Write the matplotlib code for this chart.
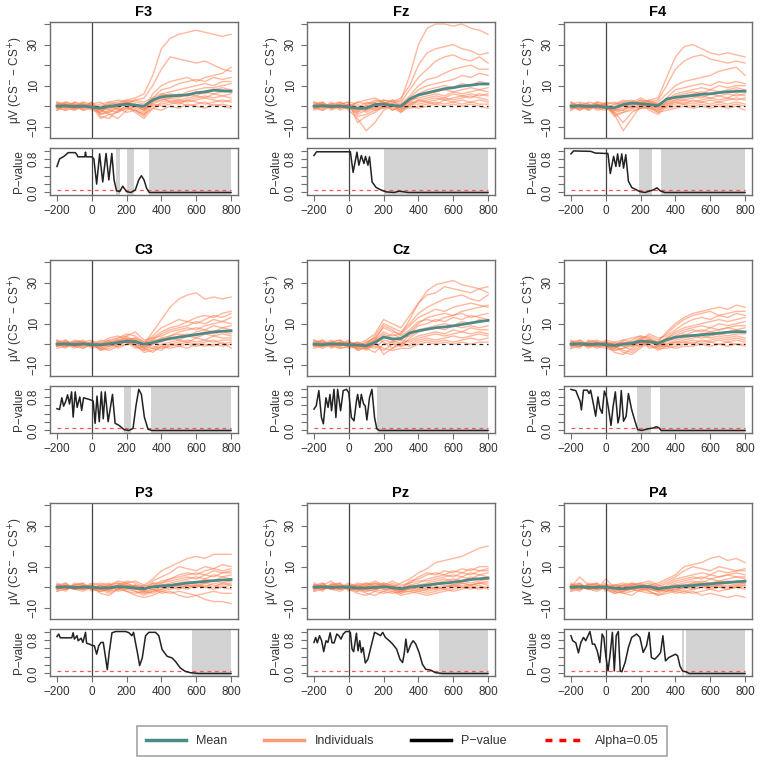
import numpy as np
import matplotlib
matplotlib.use("Agg")
import matplotlib.pyplot as plt
from matplotlib.lines import Line2D

plt.rcParams['font.family'] = ['Liberation Sans', 'DejaVu Sans']

# time grid of the individual / mean waveforms (ms)
t_wave = [-200, -150, -100, -50, 0, 50, 100, 150, 200, 250, 300,
          350, 400, 450, 500, 550, 600, 650, 700, 750, 800]

electrodes = ['F3', 'Fz', 'F4', 'C3', 'Cz', 'C4', 'P3', 'Pz', 'P4']

# ---- mean difference waves (uV) ----
mean_F3 = [0, 0.2, -0.2, 0.1, -0.5, -1, 0, 0.5, 1, 0.5, 0, 3, 4.5, 5, 5.2, 5.5, 6.5, 7, 7.8, 7.5, 7.3]
mean_Fz = [0, 0.2, -0.2, 0.1, -0.5, -1, -1, 0.8, 1, 0.4, 0, 3.5, 5.5, 6.5, 7.5, 8.5, 9, 9.8, 10.2, 10.8, 10.8]
mean_F4 = [0, 0.2, -0.2, 0.1, -0.6, -0.8, 0.8, 1.5, 1.2, 0.8, 0.3, 3.5, 4.3, 4.8, 5.2, 5.8, 6, 6.6, 7, 7.2, 7.3]
mean_C3 = [0, 0.2, -0.2, 0.2, -0.3, -0.3, 0.2, 0.8, 1.4, 1.2, 0, 0.8, 1.8, 2.8, 3.4, 4, 4.7, 5.3, 6, 6.3, 6.5]
mean_Cz = [0, -0.3, 0.2, 0, -0.3, -0.4, -0.8, 0.8, 3.5, 2.5, 2.8, 5.5, 6.5, 7.3, 8, 8.4, 8.9, 9.6, 10.3, 11, 11.6]
mean_C4 = [0, 0.2, -0.2, 0.1, -0.3, -0.7, 0, 0.4, 1.5, 1.2, 0.4, 2.2, 3.4, 3.9, 4.2, 4.6, 4.9, 5.4, 5.8, 6.1, 6]
mean_P3 = [0, 0.2, -0.2, 0.1, 0, -0.4, -0.3, 0.3, 0, -0.5, -0.8, 0.2, 0.6, 0.9, 1.5, 2, 2.4, 2.8, 3.2, 3.5, 3.7]
mean_Pz = [0, 0.2, -0.1, 0.1, 0, -0.4, -0.4, -0.1, 0.2, -0.2, -0.8, 0, 0.5, 1, 1.6, 2, 2.4, 3, 3.7, 4.1, 4.4]
mean_P4 = [0, 0.2, -0.1, 0, 0, -0.5, -0.8, -0.3, 0.3, 0.3, -0.8, -0.2, 0.2, 0.6, 0.8, 1.3, 1.6, 2, 2.3, 2.6, 2.9]

# ---- individual participants (uV) ----
ind_F3 = [
    [1, -1, 2, 0, -1, -3, 1, 2, 3, 4, 6, 15, 28, 33, 35, 36, 37, 36, 35, 34, 35],
    [0, 1, -2, 1, 0, -2, -1, 1, 2, 3, 4, 10, 18, 24, 23, 22, 21, 22, 20, 18, 17],
    [-2, 0, 1, -1, 2, -4, -3, 0, 2, 1, -2, 6, 10, 12, 13, 14, 12, 14, 15, 16, 19],
    [2, 1, 0, 2, -1, 0, -2, -3, 1, -1, -3, 4, 8, 9, 11, 12, 13, 12, 14, 13, 14],
    [-1, -2, -1, 0, 1, -5, -6, -2, 0, -2, -4, 2, 6, 7, 8, 9, 10, 11, 10, 12, 12],
    [1, 2, 1, -2, 0, 1, 2, 3, 2, 0, -1, 3, 5, 6, 5, 7, 8, 9, 9, 10, 11],
    [0, -1, 2, 1, -2, -3, 0, -1, -3, -2, -5, 1, 3, 4, 6, 5, 7, 6, 8, 9, 8],
    [-1, 0, -2, 0, 1, 2, -1, 0, 1, 3, 2, 4, 6, 5, 4, 6, 5, 7, 6, 7, 7],
    [2, -1, 0, 1, -1, -2, -4, -6, -2, 0, -2, 2, 3, 4, 3, 4, 5, 4, 6, 5, 6],
    [-2, 1, 1, -1, 0, -1, 2, 1, 0, -3, -6, -1, 2, 3, 2, 3, 4, 5, 4, 5, 4],
    [1, 0, -1, 2, 1, -4, -2, 1, 3, 2, 1, 3, 4, 2, 3, 2, 3, 4, 3, 2, 3],
    [-1, 2, 0, -2, -1, 0, 1, -2, -1, 1, -1, 0, 1, 2, 1, 3, 2, 1, 2, 3, 2],
    [0, -2, 1, 0, 2, -2, -3, -1, 2, 0, -2, 1, 0, 1, 2, 0, 1, 2, 0, 1, 0],
    [1, 1, -1, -1, 0, -6, -4, -3, -1, -2, -4, -1, -2, 0, -1, 1, 0, -1, 1, 0, -1],
]
ind_Fz = [
    [0, 1, -1, 0, 0, 2, 1, 3, 2, 1, 3, 15, 30, 38, 40, 40, 39, 40, 38, 37, 35],
    [1, -1, 0, 2, -1, -1, 0, 2, 3, 2, 4, 10, 20, 26, 28, 29, 30, 28, 27, 25, 26],
    [-1, 0, 1, -1, 1, -3, -1, 1, 1, 3, 2, 8, 14, 18, 22, 24, 25, 23, 22, 24, 21],
    [0, 2, -1, 0, -2, -6, -12, -8, -2, 0, 1, 5, 10, 13, 14, 16, 18, 19, 20, 18, 18],
    [2, 0, 1, -1, 0, -2, 0, -1, 1, -2, 0, 4, 8, 10, 11, 12, 13, 15, 14, 16, 15],
    [-1, -2, 0, 1, 2, -8, -5, -3, 0, 1, -2, 3, 6, 8, 9, 10, 9, 11, 10, 12, 11],
    [1, 1, -2, 0, -1, 2, 3, 4, 2, 0, -1, 2, 5, 6, 7, 8, 7, 8, 9, 8, 9],
    [-2, 0, 1, 2, 0, -4, -2, 0, 3, 2, 1, 3, 4, 5, 6, 5, 7, 6, 7, 8, 7],
    [0, -1, 2, -1, 1, 0, -3, -1, 0, -1, -3, 1, 3, 4, 5, 4, 6, 5, 6, 5, 6],
    [1, 2, -1, 0, -1, -3, 1, 2, -1, 1, 0, 2, 2, 3, 4, 3, 4, 5, 4, 6, 5],
    [-1, 0, 0, 1, 2, 1, -2, 0, 1, 3, -1, 0, 3, 2, 3, 4, 3, 4, 5, 4, 3],
    [0, -2, 1, -2, 0, -5, -4, -2, -1, 0, -2, 1, 1, 2, 1, 3, 2, 3, 2, 3, 2],
    [2, 1, 0, 1, -1, -1, 2, 1, 2, -2, 0, -1, 0, 1, 2, 1, 2, 1, 2, 1, 1],
    [-1, 1, -1, 0, 1, -2, 0, -2, 0, 1, -3, 0, -1, 0, 1, 0, 1, 0, 1, 0, -1],
]
ind_F4 = [
    [1, 0, -1, 1, 0, -2, 0, 2, 1, 3, 4, 14, 24, 29, 30, 28, 26, 25, 26, 25, 24],
    [0, 1, 1, -1, -1, 1, 2, 1, 3, 2, 3, 10, 18, 22, 24, 25, 23, 22, 21, 22, 21],
    [-1, -1, 0, 2, 1, -4, -12, -6, 0, 1, 2, 6, 10, 12, 13, 14, 15, 17, 18, 19, 15],
    [2, 0, -2, 0, -1, -3, -8, -3, -1, 0, -1, 4, 8, 9, 10, 11, 10, 12, 11, 12, 11],
    [0, -2, 1, -1, 2, 1, 3, 2, 4, 2, 0, 3, 6, 7, 8, 9, 8, 10, 9, 10, 10],
    [-2, 1, 0, 1, 0, -2, -1, 0, 2, -1, -2, 2, 5, 6, 7, 6, 8, 7, 8, 9, 8],
    [1, 2, 1, -1, -2, 0, 2, 3, 1, 2, 1, 3, 4, 5, 6, 7, 6, 7, 7, 8, 7],
    [0, -1, -1, 0, 1, -3, -2, 1, 3, 0, -3, 1, 3, 4, 5, 4, 6, 5, 6, 5, 6],
    [-1, 0, 2, 1, -1, -1, 1, -1, 0, 1, -1, 2, 3, 3, 4, 5, 4, 5, 4, 6, 5],
    [1, -2, 0, -1, 0, -5, -3, -1, 1, -2, -4, 0, 2, 3, 2, 3, 4, 3, 4, 3, 4],
    [-2, 1, -1, 2, 1, 2, 0, 1, 2, 3, 1, 1, 2, 1, 3, 2, 3, 2, 3, 4, 3],
    [0, 0, 1, -2, -1, -2, -2, 0, -1, 0, -2, 0, 1, 2, 1, 2, 1, 2, 1, 2, 1],
    [2, -1, 0, 0, 1, -1, 1, 2, 0, 1, 0, -1, 0, 1, 0, 1, 0, 1, 0, 1, 0],
    [-1, 1, -2, 1, 0, -4, -3, -2, -1, -1, -3, -2, -1, 0, -1, 0, -1, 0, -1, 0, -2],
]
ind_C3 = [
    [1, 0, -1, 0, 1, -1, 0, 2, 3, 2, 0, 6, 12, 18, 22, 24, 25, 22, 23, 22, 23],
    [0, -1, 1, 2, -1, 0, 2, 3, 5, 4, 1, 4, 8, 10, 12, 11, 13, 14, 13, 15, 16],
    [-1, 1, 0, -1, 0, -2, -1, 1, 4, 6, 2, 3, 6, 8, 9, 11, 10, 12, 14, 13, 15],
    [2, 0, 1, 1, -1, 1, 3, 4, 2, 0, -2, 2, 5, 7, 8, 9, 11, 10, 12, 11, 13],
    [-2, -1, 0, 0, 1, -3, -2, 0, 2, 3, 0, 3, 4, 6, 7, 8, 7, 9, 10, 11, 10],
    [1, 2, -1, -2, 0, 0, 1, 2, 1, -1, -3, 0, 3, 4, 6, 7, 8, 7, 9, 8, 9],
    [0, -2, 1, 1, 2, -1, 0, -1, 2, 3, 1, 2, 2, 4, 5, 4, 6, 7, 6, 8, 7],
    [-1, 0, -2, 0, -1, 2, 1, 3, 4, 1, -2, 1, 3, 2, 4, 5, 4, 6, 5, 6, 5],
    [1, 1, 0, -1, 0, -2, -3, -1, 0, 2, -1, 0, 1, 3, 2, 4, 3, 5, 4, 5, 4],
    [0, -1, 2, 1, -2, -1, 1, 0, 3, -1, -3, -2, 0, 1, 2, 1, 3, 2, 4, 3, 3],
    [-1, 2, -1, 0, 1, 1, -1, 2, 1, 0, -4, -3, -1, 0, 1, 2, 1, 2, 1, 2, 2],
    [2, -1, 0, -2, 0, -2, 0, 1, 2, 2, 0, -1, -2, -1, 0, 1, 0, 1, 2, 0, 1],
    [0, 1, 1, 1, -1, 0, 2, -2, 0, 1, -2, -4, -1, -2, -1, 0, -1, 0, -1, 1, -2],
    [-1, 0, -1, 0, 0, -3, -1, 0, 1, -2, -1, -2, -3, 0, -1, -2, 0, -1, 0, -1, 0],
]
ind_Cz = [
    [0, 1, -1, 1, 0, -1, 1, 3, 8, 6, 5, 12, 20, 26, 29, 30, 31, 29, 28, 27, 28],
    [1, -1, 0, -1, 1, 0, 2, 5, 12, 10, 8, 14, 20, 24, 25, 28, 27, 26, 25, 27, 25],
    [-1, 0, 1, 2, -1, -2, 0, 4, 10, 8, 6, 10, 15, 18, 20, 22, 23, 24, 22, 21, 24],
    [0, 2, -1, 0, 0, -1, -1, 2, 6, 4, 5, 9, 13, 15, 17, 16, 18, 19, 20, 19, 18],
    [2, 0, 0, -2, -1, 1, -2, 1, 5, 3, 2, 6, 10, 13, 14, 15, 14, 16, 17, 18, 19],
    [-2, -1, 1, 0, 1, -2, 0, 2, 9, 7, 4, 7, 11, 12, 11, 13, 14, 15, 13, 14, 15],
    [1, 1, -2, 1, -1, 0, -3, 0, 4, 2, 0, 5, 9, 10, 12, 11, 13, 12, 14, 13, 12],
    [0, -2, 0, 0, 2, -3, -2, 1, 3, 5, 3, 4, 7, 8, 9, 10, 9, 11, 10, 12, 11],
    [-1, 0, 2, -1, 0, 1, -1, -2, 2, 1, -1, 3, 6, 7, 8, 7, 9, 8, 9, 8, 9],
    [1, 2, -1, 1, -2, -1, 1, 3, 1, -2, 0, 2, 4, 5, 6, 5, 7, 6, 8, 7, 7],
    [-1, -1, 0, -1, 1, 0, -2, -4, 0, 1, 2, 1, 3, 4, 5, 4, 5, 6, 5, 6, 5],
    [2, 0, 1, 2, 0, -3, -1, -1, -3, 0, -1, 0, 2, 3, 2, 3, 4, 3, 4, 5, 4],
    [0, 1, -1, -2, -1, -1, 0, 2, -5, -2, 1, -1, 1, 2, 1, 2, 1, 2, 3, 2, 3],
    [-1, 0, 0, 1, 0, -2, -2, 0, -2, -3, -2, -2, 0, 1, 0, 1, 0, 1, 0, 1, 1],
]
ind_C4 = [
    [1, 0, -1, 0, 1, -1, 2, 3, 4, 2, 1, 6, 10, 13, 15, 16, 17, 18, 17, 19, 18],
    [0, -1, 1, 1, -1, -2, 0, 1, 3, 4, 2, 5, 9, 12, 14, 15, 16, 14, 15, 16, 16],
    [-1, 1, 0, -1, 0, 0, 1, -1, 2, 5, 3, 4, 7, 10, 12, 13, 12, 14, 13, 15, 14],
    [2, 0, -1, 1, -1, -3, -2, 0, 1, 2, 0, 3, 6, 8, 9, 10, 11, 12, 11, 12, 13],
    [-2, -1, 1, 0, 2, 1, -1, -3, 0, 3, 1, 3, 5, 7, 8, 9, 8, 10, 9, 10, 11],
    [1, 2, 0, -2, 0, -1, -4, -5, -2, 1, -1, 2, 4, 6, 7, 6, 8, 7, 8, 9, 9],
    [0, -2, 2, 1, -1, -2, 0, 2, 4, 3, -1, 1, 3, 4, 6, 7, 6, 7, 8, 7, 8],
    [-1, 0, -1, 0, 1, 0, 1, 0, 3, 1, 0, 2, 3, 5, 4, 5, 6, 5, 6, 7, 6],
    [1, 1, 0, -1, -2, -3, -2, -1, 1, -1, -2, 0, 2, 3, 4, 3, 4, 5, 4, 5, 5],
    [0, -1, 1, 2, 0, 1, 2, 1, 0, 0, -3, -1, 1, 2, 3, 4, 3, 4, 3, 4, 3],
    [-2, 1, -2, 0, 1, -1, -3, -4, -1, 2, 1, 0, 1, 1, 2, 1, 2, 3, 2, 3, 2],
    [1, 0, 1, -1, -1, -2, 0, 1, 2, -2, -1, -1, 0, 1, 0, 2, 1, 2, 1, 2, 1],
    [0, -1, 0, 1, 0, -4, -5, -2, 1, 0, -2, -2, -1, 0, 1, 0, 1, 0, 1, 0, 0],
    [-1, 2, -1, -1, 1, 0, -1, 0, -1, 1, 0, -1, -2, -1, -1, 0, -1, 0, -1, 0, -1],
]
ind_P3 = [
    [1, 0, -1, 0, 1, 2, 1, 3, 2, 0, 1, 4, 8, 10, 12, 14, 15, 14, 16, 16, 16],
    [0, -1, 1, 2, -1, -2, 0, 1, 3, 2, 0, 3, 5, 7, 10, 9, 8, 10, 9, 11, 10],
    [-1, 1, 0, -1, 0, 0, -2, -1, 1, -1, -2, 1, 3, 4, 6, 7, 6, 8, 9, 8, 9],
    [2, 0, 1, 1, -1, -1, 1, 2, 0, 1, -1, 2, 2, 4, 5, 6, 7, 6, 8, 7, 8],
    [-2, -1, 0, 0, 2, 1, -1, 0, 2, 3, 1, 0, 2, 3, 4, 5, 4, 6, 5, 7, 7],
    [1, 2, -1, -2, 0, -3, -4, -1, 1, 0, -3, -1, 1, 2, 3, 4, 5, 4, 6, 5, 6],
    [0, -2, 2, 1, -1, 1, 2, -2, -1, -2, -4, -2, 0, 1, 2, 3, 2, 4, 3, 5, 4],
    [-1, 0, -1, 0, 1, -1, -2, 1, 0, 1, -1, 0, 1, 0, 1, 2, 1, 2, 3, 2, 3],
    [1, 1, 0, -1, 0, -2, -1, 0, -2, -3, -2, -3, -1, 0, -1, 1, 0, 1, 0, 2, 1],
    [0, -1, 1, 2, -2, 0, 1, 2, 1, -1, 0, -1, -2, -1, 0, -1, 1, 0, -1, 0, -1],
    [-2, 1, -1, 0, 1, -1, -3, -1, -2, -4, -5, -4, -2, -3, -2, -3, -4, -3, -2, -3, -3],
    [1, 0, 1, -1, 0, 1, 0, 1, 2, 0, -2, -1, -3, -2, -4, -5, -4, -6, -7, -7, -8],
    [0, -1, 0, 1, -1, -2, -1, 0, -1, 1, -1, 2, 0, 1, 0, 1, 0, 2, 1, 0, 1],
    [-1, 2, -1, -1, 0, 0, 1, -1, 0, -2, -3, -2, -1, 0, 1, 0, 1, 0, 2, 1, 2],
]
ind_Pz = [
    [1, 0, -1, 0, 1, 0, 2, 1, 2, 0, 2, 4, 7, 9, 12, 13, 14, 15, 17, 19, 20],
    [0, -1, 1, 2, -1, -1, 0, 2, 1, 3, 1, 2, 5, 7, 6, 8, 7, 9, 8, 10, 10],
    [-1, 1, 3, -1, 0, 1, -1, 0, 2, 1, -1, 3, 4, 6, 7, 6, 8, 7, 9, 8, 9],
    [2, 0, 1, 1, -1, -2, 1, 3, 1, -1, -2, 1, 2, 4, 5, 6, 5, 7, 6, 8, 8],
    [-2, -1, 0, 0, 2, 0, -2, -1, 0, 2, 0, 2, 3, 3, 4, 5, 6, 5, 7, 6, 7],
    [1, 2, -1, -2, 0, 1, 0, 1, -1, -2, -3, 0, 1, 2, 3, 4, 3, 5, 4, 6, 5],
    [0, -2, 2, 1, -1, -3, -4, -2, 1, 0, -1, -1, 0, 1, 2, 3, 4, 3, 5, 4, 5],
    [-1, 0, -1, 0, 1, 1, 2, 0, -1, -1, -2, -2, -1, 0, 1, 2, 1, 3, 2, 3, 4],
    [1, 1, 0, -1, 0, -2, -1, -2, -3, -2, -4, -3, -2, -1, 0, 1, 0, 2, 1, 2, 2],
    [0, -1, 1, 2, -2, 0, 1, 2, 0, 1, -1, 0, -1, -2, -1, 0, 1, 0, 1, 2, 1],
    [-2, 1, -1, 0, 1, -1, -2, -1, 1, -1, -3, -2, -3, -4, -3, -2, -1, 0, -1, 0, 0],
    [1, 0, 1, -1, 0, 2, 1, -1, -2, 0, -1, 1, 0, -1, 0, -1, 0, 1, 0, 1, -1],
    [0, -1, 0, 1, -1, -1, -3, -4, -2, -3, -2, -1, -2, -3, -2, -1, -2, -1, 0, -1, 0],
    [-1, 2, -1, -1, 0, 0, -1, 0, 1, -1, -2, 0, 1, 0, -1, 0, 1, 2, 1, 2, 3],
]
ind_P4 = [
    [1, 0, -1, 0, 1, -1, 1, 2, 0, 1, 2, 4, 6, 10, 11, 12, 14, 15, 13, 14, 12],
    [0, 5, 1, 2, -1, -2, 0, 1, 2, 0, 1, 3, 5, 8, 10, 9, 8, 10, 9, 8, 9],
    [-1, 1, 0, -1, 4, 0, -2, -1, 1, 2, 0, 2, 4, 5, 6, 7, 6, 8, 7, 8, 8],
    [2, 0, 1, 1, -1, 1, 1, 0, -1, -1, -2, 1, 3, 4, 5, 4, 6, 5, 6, 7, 6],
    [-2, -1, 0, 0, 2, -2, -1, 1, 2, 3, 1, 0, 2, 3, 4, 5, 4, 5, 6, 5, 5],
    [1, 2, -1, -2, 0, 0, -3, -4, -1, 0, -2, -1, 1, 2, 3, 2, 4, 3, 4, 5, 4],
    [0, -2, 2, 1, -1, -3, -2, 0, 1, -1, -1, 0, 1, 1, 2, 3, 2, 3, 2, 3, 3],
    [-1, 0, -1, 0, 1, 1, 2, 1, 0, -2, -4, -2, 0, -1, 1, 2, 1, 2, 3, 2, 2],
    [1, 1, 0, -1, 0, -1, 0, -1, -2, -3, -3, -1, -2, 0, 0, 1, 0, 1, 0, 1, 1],
    [0, -1, 1, 2, -2, 0, -1, 2, 1, 0, -1, -2, -1, -2, -1, 0, -1, 0, 1, 0, 0],
    [-2, 1, -1, 0, 1, -2, -3, -2, 0, 1, 0, -1, -3, -2, -3, -2, -1, -2, -1, 0, -1],
    [1, 0, 1, -1, 0, 0, 1, 0, -1, -2, -4, -3, -2, -3, -2, -4, -3, -4, -5, -4, -5],
    [0, -1, 0, 1, -1, -3, -2, -1, -2, 0, -1, -2, -1, 0, -1, 0, 1, 0, -1, 0, 1],
    [-1, 2, -1, -1, 0, 1, 0, -1, 1, -1, -2, 0, 1, 0, 2, 1, 0, 1, 2, 1, 2],
]

# ---- p-value curves (time ms, p) ----
pt_F3 = [-200, -185, -160, -135, -95, -85, -80, -40, -36, -32, 0, 12, 28, 45, 63, 82, 98, 115, 128, 142, 160, 178,
         200, 225, 250, 270, 285, 300, 315, 330, 800]
pv_F3 = [0.62, 0.8, 0.86, 0.95, 0.95, 0.9, 0.85, 0.85, 0.96, 0.85, 0.85, 0.8, 0.2, 0.92, 0.25, 0.93, 0.3, 0.93, 0.3, 0.04, 0.02,
         0.15, 0.02, 0.0, 0.06, 0.3, 0.4, 0.3, 0.1, 0.0, 0.0]
pt_Fz = [-200, -185, 9, 25, 47, 58, 72, 87, 96, 110, 119, 134, 157, 185, 213, 260, 290, 310, 340, 800]
pv_Fz = [0.88, 0.97, 0.97, 0.48, 0.96, 0.65, 0.88, 0.69, 0.86, 0.65, 0.85, 0.25, 0.12, 0.06, 0.015, 0.0, 0.03, 0.02, 0.0, 0.0]
pt_F4 = [-200, -185, -87, -60, 0, 12, 26, 45, 58, 68, 79, 92, 102, 115, 130, 149, 177, 196, 225, 272, 294, 313, 338, 800]
pv_F4 = [0.92, 0.99, 0.98, 0.94, 0.93, 0.93, 0.45, 0.86, 0.62, 0.92, 0.62, 0.92, 0.58, 0.9, 0.27, 0.12, 0.06, 0.02, 0.0,
         0.06, 0.11, 0.04, 0.0, 0.0]
pt_C3 = [-200, -185, -172, -162, -150, -139, -128, -116, -107, -95, -84, -69, -58, -47, -23, 0, 8, 19, 30, 43, 55, 66, 77,
         94, 119, 134, 153, 166, 185, 213, 237, 254, 270, 285, 302, 323, 345, 800]
pv_C3 = [0.52, 0.5, 0.78, 0.58, 0.69, 0.85, 0.63, 0.92, 0.32, 0.92, 0.55, 0.8, 0.48, 0.78, 0.75, 0.72, 0.7, 0.17, 0.82, 0.21,
         0.92, 0.28, 0.92, 0.21, 0.86, 0.17, 0.13, 0.09, 0.02, 0.0, 0.05, 0.59, 0.98, 0.86, 0.32, 0.03, 0.0, 0.0]
pt_Cz = [-200, -187, -172, -157, -146, -131, -119, -108, -99, -85, -74, -64, -47, -32, -13, 0, 15, 30, 44, 51, 63, 72, 85,
         94, 104, 119, 133, 148, 161, 176, 800]
pv_Cz = [0.51, 0.59, 0.95, 0.31, 0.16, 0.78, 0.55, 0.86, 0.47, 0.98, 0.31, 0.98, 0.47, 0.95, 0.98, 0.9, 0.31, 0.23, 0.7, 0.86,
         0.55, 0.86, 0.63, 0.59, 0.25, 0.78, 0.98, 0.31, 0.04, 0.0, 0.0]
pt_C4 = [-200, -182, -172, -162, -147, -140, -128, -106, -96, -87, -72, -58, -45, -34, -21, -8, 4, 17, 30, 42, 55, 70, 79,
         89, 102, 117, 130, 149, 168, 183, 206, 244, 272, 291, 306, 319, 800]
pv_C4 = [0.98, 0.96, 0.95, 0.84, 0.69, 0.49, 0.96, 0.96, 0.88, 0.96, 0.65, 0.34, 0.8, 0.53, 0.41, 0.94, 0.8, 0.49, 0.12, 0.57,
         0.92, 0.18, 0.34, 0.95, 0.22, 0.34, 0.88, 0.49, 0.22, 0.02, 0.0, 0.04, 0.06, 0.09, 0.06, 0.0, 0.0]
pt_P3 = [-200, -190, -181, -115, -107, -100, -85, -78, -61, -51, -36, -30, -13, 0, 15, 28, 40, 53, 66, 78, 89, 100, 116,
         138, 195, 214, 230, 240, 249, 262, 275, 290, 309, 328, 366, 385, 404, 433, 461, 480, 509, 537, 565, 613, 800]
pv_P3 = [0.88, 0.94, 0.85, 0.85, 0.97, 0.82, 0.9, 0.78, 0.84, 0.74, 0.98, 0.72, 0.7, 0.67, 0.66, 0.46, 0.66, 0.74, 0.74, 0.41,
         0.09, 0.5, 0.97, 1.0, 1.0, 0.97, 0.9, 0.98, 0.78, 0.5, 0.19, 0.37, 0.9, 0.98, 0.98, 0.9, 0.57, 0.41, 0.37, 0.29,
         0.13, 0.05, 0.02, 0.0, 0.0]
pt_Pz = [-200, -190, -181, -168, -156, -144, -131, -120, -107, -96, -84, -69, -57, -45, -32, -17, 0, 9, 19, 28, 44, 53, 63,
         72, 82, 95, 110, 129, 148, 167, 182, 195, 210, 233, 252, 275, 294, 309, 318, 328, 338, 357, 370, 385, 404, 423,
         442, 470, 498, 536, 800]
pv_Pz = [0.74, 0.86, 0.73, 0.9, 0.78, 0.52, 0.78, 0.74, 0.97, 0.73, 0.73, 0.94, 0.9, 0.82, 0.94, 1.0, 1.0, 0.98, 0.58, 0.52,
         0.96, 0.54, 0.78, 0.5, 0.62, 0.25, 0.34, 0.66, 0.98, 0.94, 0.9, 0.98, 0.86, 0.78, 0.7, 0.58, 0.34, 0.26, 0.46, 0.82,
         0.5, 0.7, 0.78, 0.7, 0.5, 0.22, 0.1, 0.08, 0.02, 0.0, 0.0]
pt_P4 = [-200, -190, -172, -157, -143, -128, -115, -102, -91, -77, -64, -49, -34, -21, -11, 0, 13, 26, 38, 49, 60, 72, 83,
         92, 111, 130, 149, 177, 196, 215, 234, 249, 262, 281, 300, 315, 328, 343, 362, 381, 400, 413, 426, 441, 460, 479,
         800]
pv_P4 = [0.9, 0.78, 0.73, 0.49, 0.74, 0.86, 0.78, 0.9, 1.0, 0.7, 0.7, 0.54, 0.26, 0.94, 0.86, 0.42, 0.06, 0.5, 0.98, 0.06,
         0.9, 1.0, 0.06, 0.04, 0.26, 0.62, 0.86, 0.94, 0.86, 0.5, 0.66, 0.98, 0.38, 0.34, 0.42, 0.5, 0.9, 0.3, 0.38, 0.42,
         0.46, 0.42, 0.18, 0.06, 0.04, 0.0, 0.0]

# significant windows (ms)
sig_F3 = [(140, 160), (200, 240), (330, 800)]
sig_Fz = [(205, 800)]
sig_F4 = [(190, 265), (316, 800)]
sig_C3 = [(185, 228), (340, 800)]
sig_Cz = [(163, 800)]
sig_C4 = [(181, 257), (313, 800)]
sig_P3 = [(575, 800)]
sig_Pz = [(518, 800)]
sig_P4 = [(440, 448), (458, 800)]

alpha = 0.05

means = dict(F3=mean_F3, Fz=mean_Fz, F4=mean_F4, C3=mean_C3, Cz=mean_Cz, C4=mean_C4, P3=mean_P3, Pz=mean_Pz, P4=mean_P4)
inds = dict(F3=ind_F3, Fz=ind_Fz, F4=ind_F4, C3=ind_C3, Cz=ind_Cz, C4=ind_C4, P3=ind_P3, Pz=ind_Pz, P4=ind_P4)
pts = dict(F3=pt_F3, Fz=pt_Fz, F4=pt_F4, C3=pt_C3, Cz=pt_Cz, C4=pt_C4, P3=pt_P3, Pz=pt_Pz, P4=pt_P4)
pvs = dict(F3=pv_F3, Fz=pv_Fz, F4=pv_F4, C3=pv_C3, Cz=pv_Cz, C4=pv_C4, P3=pv_P3, Pz=pv_Pz, P4=pv_P4)
sigs = dict(F3=sig_F3, Fz=sig_Fz, F4=sig_F4, C3=sig_C3, Cz=sig_Cz, C4=sig_C4, P3=sig_P3, Pz=sig_Pz, P4=sig_P4)

# colours
col_mean = '#4E8B86'
col_ind = '#FF7F50'
col_frame = '#6E6E6E'
col_txt = '#333333'

W = 762.0
fig = plt.figure(figsize=(7.62, 7.62), dpi=100)

col_left = [50, 307, 564]
row_top = [22, 260, 503]
pw, ph_top, ph_p, gap = 188, 116, 47, 10


def px_axes(x, y, w, h):
    return fig.add_axes([x / W, 1 - (y + h) / W, w / W, h / W])


def style(ax):
    for s in ax.spines.values():
        s.set_color(col_frame)
        s.set_linewidth(1.0)
    ax.tick_params(colors=col_frame, labelcolor=col_txt, labelsize=8.5, length=4, width=0.8)


for i, el in enumerate(electrodes):
    r, c = divmod(i, 3)
    x0, y0 = col_left[c], row_top[r]

    # upper panel: difference waves
    ax = px_axes(x0, y0, pw, ph_top)
    for ind in inds[el]:
        ax.plot(t_wave, ind, color=col_ind, lw=1.0, alpha=0.55)
    ax.plot([-200, 800], [0, 0], color='#222222', lw=0.9, ls=(0, (3, 3)))
    ax.axvline(0, color='#444444', lw=0.9)
    ax.plot(t_wave, means[el], color=col_mean, lw=2.0)
    ax.set_xlim(-240, 840)
    ax.set_ylim(-15.5, 41)
    ax.set_xticks([])
    ax.set_yticks([-10, 0, 10, 20, 30, 40])
    ax.set_yticklabels(['\u221210', '', '10', '', '30', ''], rotation=90, va='center')
    ax.set_ylabel('\u03bcV (CS$^{-}$ \u2212 CS$^{+}$)', fontsize=8.5, color=col_txt, labelpad=2)
    ax.set_title(el, fontsize=10.5, fontweight='bold', pad=4)
    style(ax)

    # lower panel: p-values
    bx = px_axes(x0, y0 + ph_top + gap, pw, ph_p)
    for a, b in sigs[el]:
        bx.axvspan(a, b, color='#D3D3D3', lw=0)
    bx.axvline(0, color='#444444', lw=0.9)
    bx.axhline(alpha, xmin=(-200 + 240) / 1080, xmax=(800 + 240) / 1080, color='#FF5555', lw=0.9, ls=(0, (3, 3)))
    bx.plot(pts[el], pvs[el], color='#222222', lw=1.1)
    bx.set_xlim(-240, 840)
    bx.set_ylim(-0.06, 1.06)
    bx.set_xticks([-200, 0, 200, 400, 600, 800])
    bx.set_xticklabels(['\u2212200', '0', '200', '400', '600', '800'])
    bx.set_yticks([0, 0.2, 0.4, 0.6, 0.8, 1.0])
    bx.set_yticklabels(['0.0', '', '', '', '0.8', ''], rotation=90, va='center')
    bx.set_ylabel('P\u2212value', fontsize=8.5, color=col_txt, labelpad=2)
    style(bx)

# legend
handles = [
    Line2D([], [], color=col_mean, lw=2.5),
    Line2D([], [], color='#FF9A73', lw=2.5),
    Line2D([], [], color='black', lw=2.5),
    Line2D([], [], color='red', lw=2.5, ls=(0, (2, 2))),
]
labels = ['Mean', 'Individuals', 'P\u2212value', 'Alpha=0.05']
leg = fig.legend(handles, labels, loc='center', bbox_to_anchor=(402 / W, 1 - 741 / W), ncol=4,
                 frameon=True, fancybox=False, fontsize=9, handlelength=3.2, columnspacing=3.0,
                 borderpad=0.7, handletextpad=0.8)
leg.get_frame().set_edgecolor('#8C8C8C')
leg.get_frame().set_linewidth(1.2)
for t in leg.get_texts():
    t.set_color(col_txt)

fig.savefig('out.png', dpi=100)
